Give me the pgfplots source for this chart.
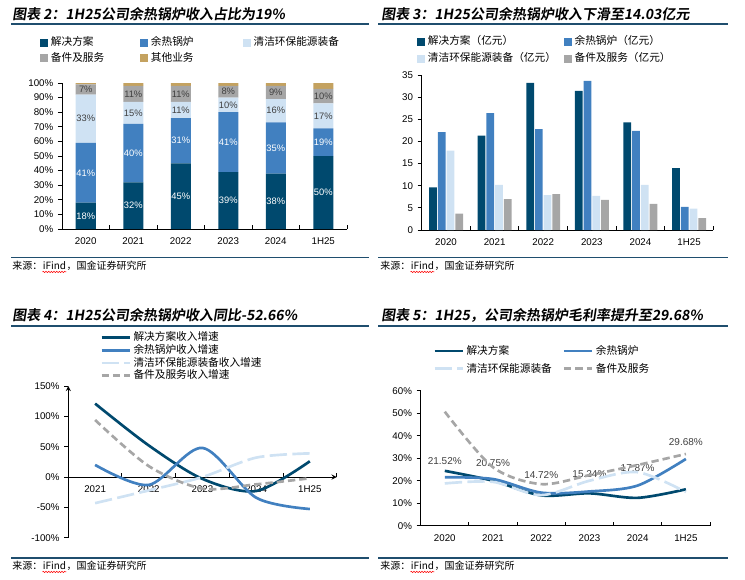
\documentclass[border=0pt]{standalone}
\usepackage{pgfplots}
\usepackage{pgfplotstable}
\pgfplotsset{compat=1.18}
\usetikzlibrary{decorations.pathmorphing}
\usepackage{fontspec}
\setmainfont{Liberation Sans}
\newfontfamily\cjk{Noto Sans CJK SC}
\newfontfamily\cjktitle{Noto Sans CJK SC Bold}[FakeSlant=0.15]
\definecolor{cdark}{RGB}{0,73,110}
\definecolor{cblue}{RGB}{65,128,192}
\definecolor{clight}{RGB}{207,226,243}
\definecolor{cgray}{RGB}{166,166,166}
\definecolor{cgold}{RGB}{196,162,96}
\definecolor{crule}{RGB}{31,78,110}
\definecolor{ctext}{RGB}{64,64,64}

\pgfplotstableread{
x sol boiler clean parts other
0 18 41 33 7 1
1 32 40 15 11 2
2 45 31 11 11 2
3 39 41 10 8 2
4 38 35 16 9 2
5 50 19 17 10 4
}\shareTab
\pgfplotstableread{
x y lab
0 9 18
0 38.5 41
1 16 32
1 52 40
2 22.5 45
2 60.5 31
3 19.5 39
3 59.5 41
4 19 38
4 55.5 35
5 25 50
5 59.5 19
}\labWhite
\pgfplotstableread{
x y lab
0 75.5 33
0 95.5 7
1 79.5 15
1 92.5 11
2 81.5 11
2 92.5 11
3 85 10
3 94 8
4 81 16
4 93.5 9
5 77.5 17
5 91 10
}\labDark
\pgfplotstableread{
x sol boiler clean parts
0 9.6 22.1 17.9 3.7
1 21.3 26.4 10.2 7.0
2 33.2 22.8 7.9 8.1
3 31.4 33.7 7.7 6.8
4 24.3 22.4 10.2 5.9
5 14.0 5.2 4.8 2.7
}\revTab
\pgfplotstableread{
x sol boiler clean parts
0 121 20 -43 94
1 52 -13 -22 18
2 -3 48 0 -19
3 -23 -34 32 -12
4 26 -52.66 39 -2
}\growTab
\pgfplotstableread{
x sol boiler clean parts
0 24.4 21.52 18.8 50.7
1 20.0 20.75 19.5 26.0
2 13.5 14.72 13.6 18.5
3 14.4 15.24 20.0 22.5
4 12.4 17.87 23.8 27.0
5 16.2 29.68 15.0 31.9
}\marginTab
\pgfplotstableread{
x y lab
0 28.8 21.52
1 28.0 20.75
2 22.5 14.72
3 22.8 15.24
4 25.5 17.87
5 37.3 29.68
}\marginLab

\pgfplotsset{
  base/.style={
    scale only axis,
    axis x line=bottom, axis y line=left,
    axis line style={-, line width=0.7pt, black},
    tick style={black, line width=0.7pt},
    tick align=outside,
    major tick length=3pt,
    minor tick length=3pt,
    /pgf/number format/assume math mode=true,
    ticklabel style={font=\fontsize{7.3}{8}\selectfont},
    major x tick style={draw=none},
    minor x tick style={yshift=3pt},
    clip=false,
    legend cell align=left,
    legend style={draw=none, fill=none, inner sep=0pt, column sep=2pt,
      font=\cjk\fontsize{8}{9}\selectfont,
      nodes={inner sep=0pt, text height=6.5pt, text depth=1.5pt}},
  },
  sqlegend/.style={legend image code/.code={\fill[##1, draw=none] (0pt,-3pt) rectangle (6pt,3pt);}},
  linelegend/.style={legend image code/.code={\draw[##1] (0pt,0pt) -- (21pt,0pt);}},
}

\newcommand\source[3]{%
  \node[anchor=west, inner sep=0pt] (#3a) at (#1,#2) {\cjk\fontsize{7.5}{9}\selectfont 来源：};
  \node[anchor=base west, inner sep=0pt] (#3b) at (#3a.base east) {\cjk\fontsize{7.5}{9}\selectfont iFind};
  \node[anchor=base west, inner sep=0pt] at (#3b.base east) {\cjk\fontsize{7.5}{9}\selectfont ，国金证券研究所};
  \draw[red, line width=0.4pt, decorate, decoration={snake, amplitude=0.5pt, segment length=2pt}]
    ([yshift=-1.6pt]#3b.base west) -- ([yshift=-1.6pt]#3b.base east);
}

\begin{document}
\begin{tikzpicture}
\path (0pt,0pt) rectangle (558.75pt,-434.25pt);

% ---------------- Chart 2 ----------------
\begin{axis}[base, at={(46.5pt,-171.75pt)}, anchor=south west,
  width=213.75pt, height=109.5pt,
  xmin=-0.5, xmax=5.5, ymin=0, ymax=100,
  xtick={0,...,5}, xticklabels={2020,2021,2022,2023,2024,1H25},
  minor xtick={0.5,1.5,...,5.5},
  ytick={0,10,...,100},
  yticklabels={0\%,10\%,20\%,30\%,40\%,50\%,60\%,70\%,80\%,90\%,100\%},
  ybar stacked, bar width=15pt,
  legend columns=3,
  legend style={at={(-0.0772,1.315)}, anchor=north west, row sep=3.5pt},
  sqlegend,
]
\addplot[fill=cdark, draw=none] table[x=x,y=sol]{\shareTab};
\addlegendentry{\makebox[65pt][l]{解决方案}}
\addplot[fill=cblue, draw=none] table[x=x,y=boiler]{\shareTab};
\addlegendentry{\makebox[67pt][l]{余热锅炉}}
\addplot[fill=clight, draw=none] table[x=x,y=clean]{\shareTab};
\addlegendentry{清洁环保能源装备}
\addplot[fill=cgray, draw=none] table[x=x,y=parts]{\shareTab};
\addlegendentry{\makebox[65pt][l]{备件及服务}}
\addplot[fill=cgold, draw=none] table[x=x,y=other]{\shareTab};
\addlegendentry{\makebox[67pt][l]{其他业务}}
\end{axis}
\begin{axis}[at={(46.5pt,-171.75pt)}, anchor=south west, scale only axis,
  width=213.75pt, height=109.5pt, hide axis, clip=false,
  xmin=-0.5, xmax=5.5, ymin=0, ymax=100]
\addplot[draw=none, mark=none, nodes near coords={\pgfplotspointmeta\%},
  point meta=explicit symbolic,
  every node near coord/.append style={anchor=center, text=white, font=\fontsize{7}{8}\selectfont}]
  table[x=x,y=y,meta=lab]{\labWhite};
\addplot[draw=none, mark=none, nodes near coords={\pgfplotspointmeta\%},
  point meta=explicit symbolic,
  every node near coord/.append style={anchor=center, text=ctext, font=\fontsize{7}{8}\selectfont}]
  table[x=x,y=y,meta=lab]{\labDark};
\end{axis}

% ---------------- Chart 3 ----------------
\begin{axis}[base, at={(316.3pt,-172.5pt)}, anchor=south west,
  width=218.7pt, height=116.25pt,
  xmin=-0.5, xmax=5.5, ymin=0, ymax=35,
  xtick={0,...,5}, xticklabels={2020,2021,2022,2023,2024,1H25},
  minor xtick={0.5,1.5,...,5.5},
  ytick={0,5,...,35},
  ybar=0.75pt, bar width=5.8pt,
  legend columns=2,
  legend style={at={(-0.0161,1.2516)}, anchor=north west, row sep=4.75pt},
  sqlegend,
]
\addplot[fill=cdark, draw=none] table[x=x,y=sol]{\revTab};
\addlegendentry{\makebox[100pt][l]{解决方案（亿元）}}
\addplot[fill=cblue, draw=none] table[x=x,y=boiler]{\revTab};
\addlegendentry{余热锅炉（亿元）}
\addplot[fill=clight, draw=none] table[x=x,y=clean]{\revTab};
\addlegendentry{\makebox[100pt][l]{清洁环保能源装备（亿元）}}
\addplot[fill=cgray, draw=none] table[x=x,y=parts]{\revTab};
\addlegendentry{备件及服务（亿元）}
\end{axis}

% ---------------- Chart 4 ----------------
\begin{axis}[base, linelegend, at={(51.2pt,-403.3pt)}, anchor=south west,
  width=201.3pt, height=113.8pt,
  axis x line=middle, axis y line=left, tick align=outside,
  hide obscured x ticks=false, hide obscured y ticks=false,
  xmin=-0.5, xmax=4.5, ymin=-100, ymax=150,
  xtick={0,...,4}, xticklabels={2021,2022,2023,2024,1H25},
  minor xtick={0.5,1.5,...,4.5},
  ytick={-100,-50,0,50,100,150},
  yticklabels={-100\%,-50\%,0\%,50\%,100\%,150\%},
  legend columns=1,
  legend style={at={(0.1181,1.356)}, anchor=north west, row sep=1.5pt},
]
\addplot[cdark, line width=2pt, smooth] table[x=x,y=sol]{\growTab};
\addlegendentry{解决方案收入增速}
\addplot[cblue, line width=2pt, smooth] table[x=x,y=boiler]{\growTab};
\addlegendentry{余热锅炉收入增速}
\addplot[clight, line width=2pt, smooth, dash pattern=on 13pt off 4pt] table[x=x,y=clean]{\growTab};
\addlegendentry{清洁环保能源装备收入增速}
\addplot[cgray, line width=2pt, smooth, dash pattern=on 5.5pt off 3pt] table[x=x,y=parts]{\growTab};
\addlegendentry{备件及服务收入增速}
\end{axis}

% ---------------- Chart 5 labels (under the lines) ----------------
\begin{axis}[at={(315.5pt,-394.3pt)}, anchor=south west, scale only axis,
  width=217pt, height=101.25pt, hide axis, clip=false,
  xmin=-0.5, xmax=5.5, ymin=0, ymax=60]
\addplot[draw=none, mark=none, nodes near coords={\pgfplotspointmeta\%},
  point meta=explicit symbolic,
  every node near coord/.append style={anchor=center, text=ctext, font=\fontsize{7.5}{8}\selectfont}]
  table[x=x,y=y,meta=lab]{\marginLab};
\end{axis}

% ---------------- Chart 5 ----------------
\begin{axis}[base, linelegend, at={(315.5pt,-394.3pt)}, anchor=south west,
  width=217pt, height=101.25pt,
  xmin=-0.5, xmax=5.5, ymin=0, ymax=60,
  xtick={0,...,5}, xticklabels={2020,2021,2022,2023,2024,1H25},
  minor xtick={0.5,1.5,...,5.5},
  ytick={0,10,...,60},
  yticklabels={0\%,10\%,20\%,30\%,40\%,50\%,60\%},
  legend columns=2,
  legend style={at={(0.0425,1.336)}, anchor=north west, row sep=5.3pt},
]
\addplot[cdark, line width=2pt, smooth] table[x=x,y=sol]{\marginTab};
\addlegendentry{\makebox[70pt][l]{解决方案}}
\addplot[cblue, line width=2pt, smooth] table[x=x,y=boiler]{\marginTab};
\addlegendentry{余热锅炉}
\addplot[clight, line width=2pt, smooth, dash pattern=on 13pt off 4pt] table[x=x,y=clean]{\marginTab};
\addlegendentry{\makebox[70pt][l]{清洁环保能源装备}}
\addplot[cgray, line width=2pt, smooth, dash pattern=on 5.5pt off 3pt] table[x=x,y=parts]{\marginTab};
\addlegendentry{备件及服务}
\end{axis}

% ---------------- Titles, rules, sources ----------------
\begin{scope}[x=0.75pt,y=-0.75pt]
\node[anchor=west, inner sep=0pt] at (12,14) {\cjktitle\fontsize{10.5}{12}\selectfont 图表 2：1H25公司余热锅炉收入占比为19\%};
\node[anchor=west, inner sep=0pt] at (381,14) {\cjktitle\fontsize{10.5}{12}\selectfont 图表 3：1H25公司余热锅炉收入下滑至14.03亿元};
\node[anchor=west, inner sep=0pt] at (12,315) {\cjktitle\fontsize{10.5}{12}\selectfont 图表 4：1H25公司余热锅炉收入同比-52.66\%};
\node[anchor=west, inner sep=0pt] at (381,315) {\cjktitle\fontsize{10.5}{12}\selectfont 图表 5：1H25，公司余热锅炉毛利率提升至29.68\%};
\draw[crule, line width=1.1pt] (11,24) -- (369,24);
\draw[crule, line width=1.1pt] (378,24) -- (728,24);
\draw[crule, line width=1.1pt] (11,325.8) -- (369,325.8);
\draw[crule, line width=1.1pt] (378,325.8) -- (728,325.8);
\draw[crule, line width=1.1pt] (11,257.7) -- (369,257.7);
\draw[crule, line width=1.1pt] (378,257.7) -- (728,257.7);
\draw[crule, line width=1.1pt] (11,557.9) -- (369,557.9);
\draw[crule, line width=1.1pt] (378,557.9) -- (728,557.9);
\source{12}{266}{sA}
\source{380}{266}{sB}
\source{12}{566}{sC}
\source{380}{566}{sD}
\end{scope}
\end{tikzpicture}
\end{document}
